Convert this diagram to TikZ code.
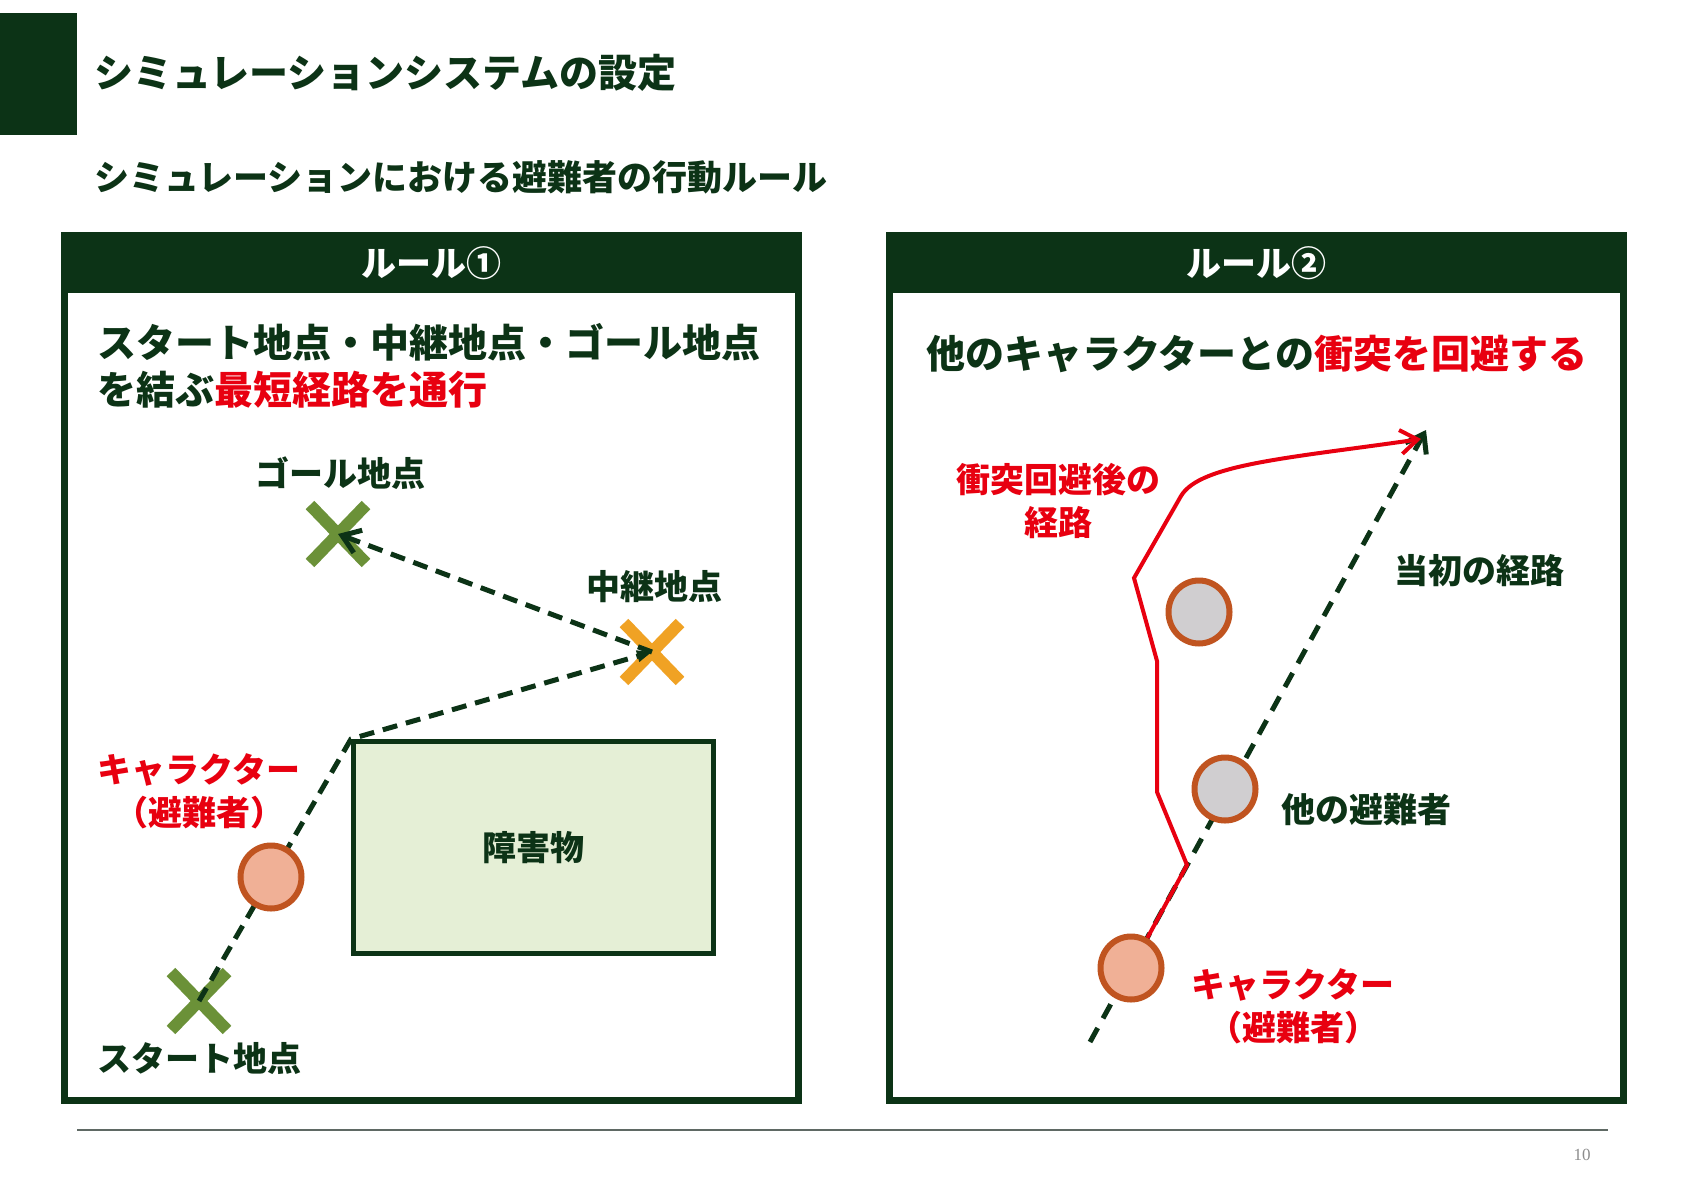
\documentclass[tikz,border=0pt]{standalone}
\usepackage{fontspec}
\newfontfamily\jp{Noto Sans CJK JP}
\newfontfamily\pgserif{Liberation Serif}
\usetikzlibrary{shapes.geometric,shapes.misc,arrows.meta}
\definecolor{dkg}{RGB}{12,51,22}
\definecolor{rtxt}{RGB}{232,0,16}
\definecolor{olivex}{RGB}{107,145,56}
\definecolor{orangex}{RGB}{240,162,36}
\definecolor{salmon}{RGB}{240,176,150}
\definecolor{rim}{RGB}{192,84,32}
\definecolor{grayfill}{RGB}{208,206,208}
\definecolor{obsfill}{RGB}{229,239,214}
\definecolor{rulegray}{RGB}{95,105,100}
\definecolor{pggray}{RGB}{140,140,140}
\begin{document}
\begin{tikzpicture}[x=1pt,y=-1pt,
  tA/.style={font=\jp\bfseries\fontsize{39}{47}\selectfont, inner sep=0},
  tB/.style={font=\jp\bfseries\fontsize{35}{42}\selectfont, inner sep=0},
  tC/.style={font=\jp\bfseries\fontsize{34}{43}\selectfont, inner sep=0},
  hdr/.style={fill=dkg, text=white, anchor=north west, minimum width=741, minimum height=61, inner sep=0, font=\jp\bfseries\fontsize{35}{40}\selectfont},
  panel/.style={draw=dkg, line width=7, anchor=north west, minimum width=734, minimum height=865, inner sep=0},
  xmark/.style={cross out, line width=12, minimum width=44, minimum height=46, inner sep=0},
  pathdash/.style={draw=dkg, line width=5, dash pattern=on 15pt off 9pt},
  person/.style={ellipse, line width=6, draw=rim, minimum width=61, minimum height=63, inner sep=0},
  redpath/.style={draw=rtxt, line width=4, line join=miter},
  barb/.style={-{Straight Barb[length=17pt,width=24pt]}},
]
\useasboundingbox (0,0) rectangle (1684,1191);
\fill[white] (0,0) rectangle (1684,1191);

% title block
\fill[dkg] (0,13) rectangle (77,135);
\node (title) [tA, text=dkg, anchor=west] at (94,73) {シミュレーションシステムの設定};
\node (sub) [tB, text=dkg, anchor=west] at (94,177) {シミュレーションにおける避難者の行動ルール};

% panels
\node (p1) [panel] at (61,232) {};
\node (h1) [hdr] at (61,232) {ルール①};
\node (p2) [panel] at (886,232) {};
\node (h2) [hdr] at (886,232) {ルール②};

% ---------- rule 1 ----------
\node (b1) [tA, text=dkg, anchor=west, align=left] at (97,366) {スタート地点・中継地点・ゴール地点\\を結ぶ\textcolor{rtxt}{最短経路を通行}};

\node (obs) [draw=dkg, line width=4.5, fill=obsfill, minimum width=360, minimum height=212, anchor=north west, inner sep=0, font=\jp\bfseries\fontsize{34}{40}\selectfont, text=dkg] at (351,739) {障害物};

\node (goalX) [xmark, draw=olivex] at (338,534) {};
\node (relayX) [xmark, draw=orangex] at (652,652) {};
\node (startX) [xmark, draw=olivex] at (199,1001) {};

\node (goallbl) [tC, text=dkg, anchor=west] at (255,473) {ゴール地点};
\node (relaylbl) [tC, text=dkg, anchor=west] at (586,587) {中継地点};
\node (startlbl) [tC, text=dkg, anchor=west] at (97,1058) {スタート地点};
\node (char1lbl) [tC, text=rtxt, align=center] at (199,791) {キャラクター\\（避難者）};

\draw[pathdash, -{Triangle[length=15pt,width=11pt]}] (startX.center) -- (obs.north west) -- (relayX.center);
\draw[pathdash, barb] (relayX.center) -- (goalX.center);

\node (char1) [person, fill=salmon] at (271,877) {};

% ---------- rule 2 ----------
\node (b2) [tA, text=dkg, anchor=west] at (926,354) {他のキャラクターとの\textcolor{rtxt}{衝突を回避する}};

\coordinate (ds) at (1090,1042);
\coordinate (de) at (1426,430);
\draw[pathdash, dash pattern=on 16pt off 11pt, barb] (ds) -- (de);

\node (other1) [person, fill=grayfill] at (1199,612) {};
\node (other2) [person, fill=grayfill] at (1225,789) {};
\node (char2) [person, fill=salmon] at (1131,968) {};

\coordinate (r1) at (1187,865);
\coordinate (r2) at (1157,792);
\coordinate (r3) at (1157,661);
\coordinate (r4) at (1134,578);
\coordinate (r5) at (1181,496);
\coordinate (re) at (1421,439);
\draw[redpath, barb] (char2) -- (r1) -- (r2) -- (r3) -- (r4) -- (r5) .. controls (1200,464) and (1290,458) .. (re);

\node (avoidlbl) [tC, text=rtxt, align=center] at (1058,501) {衝突回避後の\\経路};
\node (origlbl) [tC, text=dkg, anchor=west] at (1394,571) {当初の経路};
\node (otherlbl) [tC, text=dkg, anchor=west] at (1281,810) {他の避難者};
\node (char2lbl) [tC, text=rtxt, align=center] at (1293,1006) {キャラクター\\（避難者）};

% footer
\draw[rulegray, line width=1.5] (77,1130) -- (1608,1130);
\node (pg) [font=\pgserif\fontsize{17}{19}\selectfont, text=pggray] at (1582,1155) {10};
\end{tikzpicture}
\end{document}
